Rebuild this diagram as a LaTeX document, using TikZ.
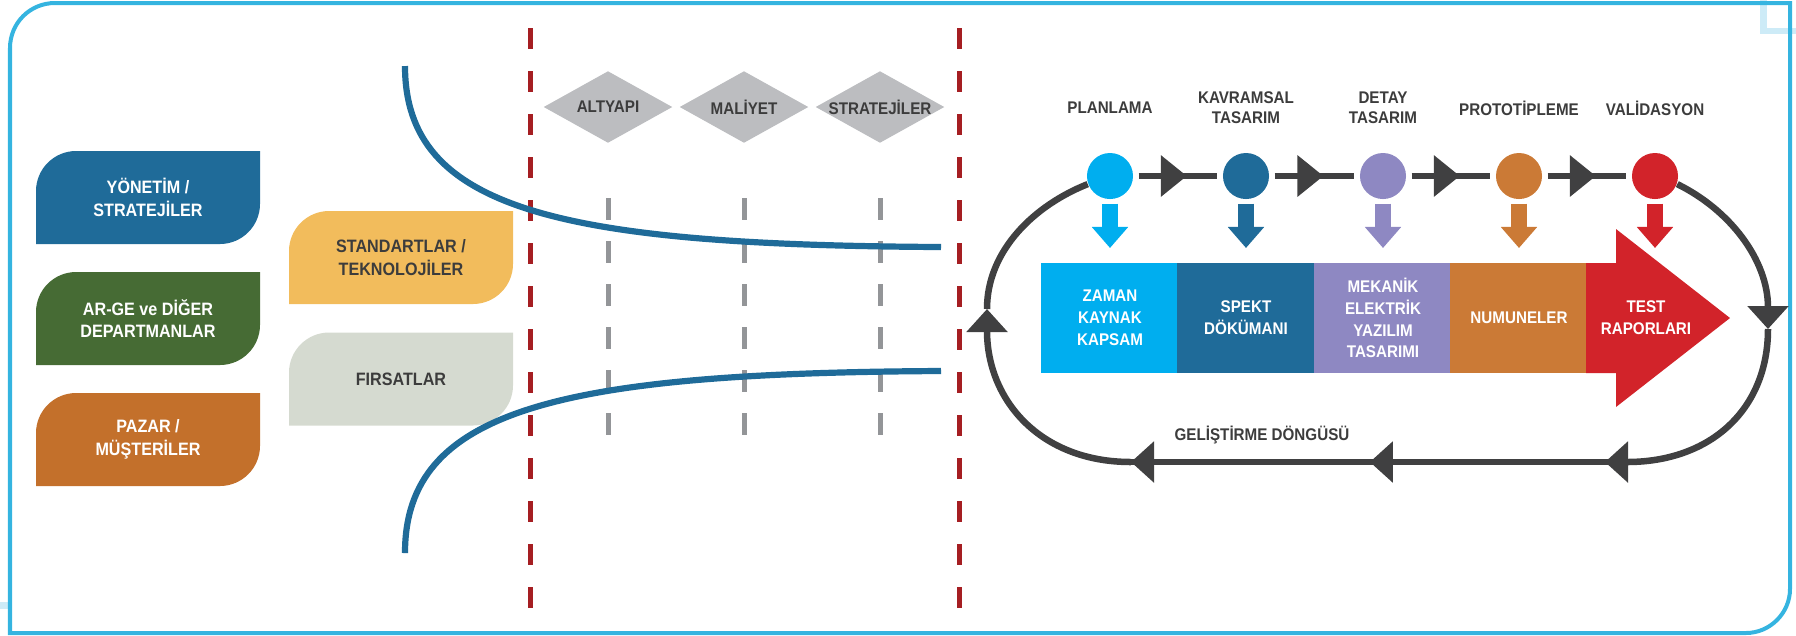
\documentclass[tikz,border=0pt]{standalone}
\usepackage{fontspec}
\setmainfont{Liberation Sans}[FakeStretch=0.9]
\usetikzlibrary{shapes.geometric,arrows.meta,decorations.markings}

\definecolor{framecyan}{RGB}{53,180,224}
\definecolor{faintcyan}{RGB}{205,235,247}
\definecolor{mgmtblue}{RGB}{31,107,153}
\definecolor{rndgreen}{RGB}{70,107,52}
\definecolor{mktorange}{RGB}{195,112,43}
\definecolor{stdyellow}{RGB}{242,188,92}
\definecolor{oppgray}{RGB}{213,218,208}
\definecolor{cutred}{RGB}{165,30,34}
\definecolor{gridgray}{RGB}{147,149,152}
\definecolor{diagray}{RGB}{188,189,192}
\definecolor{txtgray}{RGB}{60,60,60}
\definecolor{loopgray}{RGB}{64,64,65}
\definecolor{phasecyan}{RGB}{0,174,239}
\definecolor{phaseblue}{RGB}{31,107,153}
\definecolor{phaselilac}{RGB}{142,136,194}
\definecolor{phaseorange}{RGB}{203,122,54}
\definecolor{phasered}{RGB}{210,35,42}

\tikzset{
  looptip/.tip={Triangle[length=0.23cm,width=0.4cm]},
  chaintip/.tip={Triangle[length=0.26cm,width=0.4cm]},
  tagtext/.style={align=center, inner sep=0pt, font=\bfseries\fontsize{5.1}{6.5}\selectfont},
  factor/.style={diamond, fill=diagray, aspect=1.8, minimum width=1.29cm, minimum height=0.72cm,
    inner xsep=-0.15cm, inner ysep=0pt, text=txtgray, font=\bfseries\fontsize{4.8}{5.7}\selectfont},
  phase/.style={circle, minimum size=0.46cm, inner sep=0pt},
  phaselabel/.style={align=center, inner sep=0pt, text=txtgray, font=\bfseries\fontsize{4.8}{5.7}\selectfont},
  deliverable/.style={minimum width=1.37cm, minimum height=1.1cm, inner sep=0pt, align=center,
    text=white, font=\bfseries\fontsize{4.8}{6.2}\selectfont},
  cutline/.style={cutred, line width=0.05cm, dash pattern=on 0.21cm off 0.22cm},
  gridline/.style={gridgray, line width=0.05cm, dash pattern=on 0.22cm off 0.21cm},
  funnel/.style={mgmtblue, line width=0.062cm},
  loopline/.style={loopgray, line width=0.065cm},
  handoff/.style={line width=0.16cm, -{Triangle[length=0.21cm,width=0.35cm]}, shorten <=0.04cm, shorten >=0.15cm},
}

\begin{document}
\begin{tikzpicture}[x=0.01cm, y=-0.01cm]
  \useasboundingbox (0,0) rectangle (1796,635);

  \fill[faintcyan] (1760,0) rectangle (1767,34);
  \fill[faintcyan] (1760,28) rectangle (1796,34);
  \fill[faintcyan] (0,602) rectangle (8,609);
  \draw[framecyan, line width=0.04cm] (10,633) -- (10,48) .. controls (10,23) and (30,3) .. (55,3) -- (1790,3)
    -- (1790,589) .. controls (1790,613) and (1770,633) .. (1746,633) -- cycle;

  \foreach \cx/\cy/\clr in {148/197.5/mgmtblue, 148/318.5/rndgreen, 148/439.5/mktorange, 401/257.5/stdyellow, 401/379/oppgray}
    \fill[\clr] (\cx-112,\cy+46.5) -- (\cx-112,\cy-6.5) .. controls (\cx-112,\cy-28.5) and (\cx-94,\cy-46.5) .. (\cx-72,\cy-46.5)
      -- (\cx+112,\cy-46.5) -- (\cx+112,\cy+6.5) .. controls (\cx+112,\cy+28.5) and (\cx+94,\cy+46.5) .. (\cx+72,\cy+46.5) -- cycle;
  \node[tagtext, text=white] (mgmt) at (148,197.5) {YÖNETİM /\\STRATEJİLER};
  \node[tagtext, text=white] (rnd) at (148,318.5) {AR-GE ve DİĞER\\DEPARTMANLAR};
  \node[tagtext, text=white] (mkt) at (148,439.5) {PAZAR /\\MÜŞTERİLER};
  \node[tagtext, text=txtgray] (std) at (401,257.5) {STANDARTLAR /\\TEKNOLOJİLER};
  \node[tagtext, text=txtgray] (opp) at (401,379) {FIRSATLAR};

  \draw[cutline] (530,28) -- (530,610);
  \draw[cutline] (959,28) -- (959,610);
  \foreach \x in {608,744,880}
    \draw[gridline] (\x,198) -- (\x,438);
  \node[factor] (infra) at (608,107) {ALTYAPI};
  \node[factor] (cost) at (744,107) {MALİYET};
  \node[factor] (strat) at (880,107) {STRATEJİLER};

  \draw[funnel] (405,66) .. controls (405,210) and (560,245) .. (941,247);
  \draw[funnel] (405,553) .. controls (405,409) and (560,373) .. (941,371);

  \node[phaselabel] (l1) at (1110,108) {PLANLAMA};
  \node[phaselabel] (l2) at (1246,108) {KAVRAMSAL\\TASARIM};
  \node[phaselabel] (l3) at (1383,108) {DETAY\\TASARIM};
  \node[phaselabel] (l4) at (1519,108) {PROTOTİPLEME};
  \node[phaselabel] (l5) at (1655,108) {VALİDASYON};

  \node[phase, fill=phasecyan] (c1) at (1110,176) {};
  \node[phase, fill=phaseblue] (c2) at (1246,176) {};
  \node[phase, fill=phaselilac] (c3) at (1383,176) {};
  \node[phase, fill=phaseorange] (c4) at (1519,176) {};
  \node[phase, fill=phasered] (c5) at (1655,176) {};
  \foreach \a/\b in {c1/c2, c2/c3, c3/c4, c4/c5}
    \draw[loopline, shorten <=0.05cm, shorten >=0.05cm, postaction={decorate},
      decoration={markings, mark=at position 0.6 with {\arrow{chaintip}}}] (\a) -- (\b);

  \node[deliverable, fill=phasecyan] (b1) at (1110,318) {ZAMAN\\KAYNAK\\KAPSAM};
  \node[deliverable, fill=phaseblue] (b2) at (1246,318) {SPEKT\\DÖKÜMANI};
  \node[deliverable, fill=phaselilac] (b3) at (1383,318) {MEKANİK\\ELEKTRİK\\YAZILIM\\TASARIMI};
  \node[deliverable, fill=phaseorange] (b4) at (1519,318) {NUMUNELER};
  \fill[phasered] (1586,263) -- (1616,263) -- (1616,229) -- (1730,318) -- (1616,407) -- (1616,373) -- (1586,373) -- cycle;
  \node[deliverable, minimum width=0pt] (b5) at (1646,318) {TEST\\RAPORLARI};

  \coordinate (bartop) at (1043,263);
  \foreach \n/\clr in {1/phasecyan, 2/phaseblue, 3/phaselilac, 4/phaseorange, 5/phasered}
    \draw[handoff, \clr] (c\n) -- (c\n |- bartop);

  \coordinate (rtmid) at (1768,329);
  \coordinate (rtbot) at (1627,462);
  \coordinate (lfbot) at (1131,462);
  \coordinate (lfmid) at (987,309);
  \draw[loopline, -{looptip}] (c5.-20) .. controls (1730,210) and (1768,260) .. (rtmid);
  \draw[loopline] (rtmid) .. controls (1768,410) and (1710,462) .. (rtbot);
  \draw[loopline, postaction={decorate}, decoration={markings,
      mark=at position 0.22cm with {\arrow{looptip}},
      mark=at position 2.57cm with {\arrow{looptip}},
      mark=at position 1 with {\arrow{looptip}}}] (rtbot) -- (lfbot);
  \draw[loopline, -{looptip}] (lfbot) .. controls (1040,462) and (987,400) .. (lfmid);
  \draw[loopline] (lfmid) .. controls (987,250) and (1035,205) .. (c1.200);
  \node[phaselabel] (cycle) at (1262,435) {GELİŞTİRME DÖNGÜSÜ};
\end{tikzpicture}
\end{document}
